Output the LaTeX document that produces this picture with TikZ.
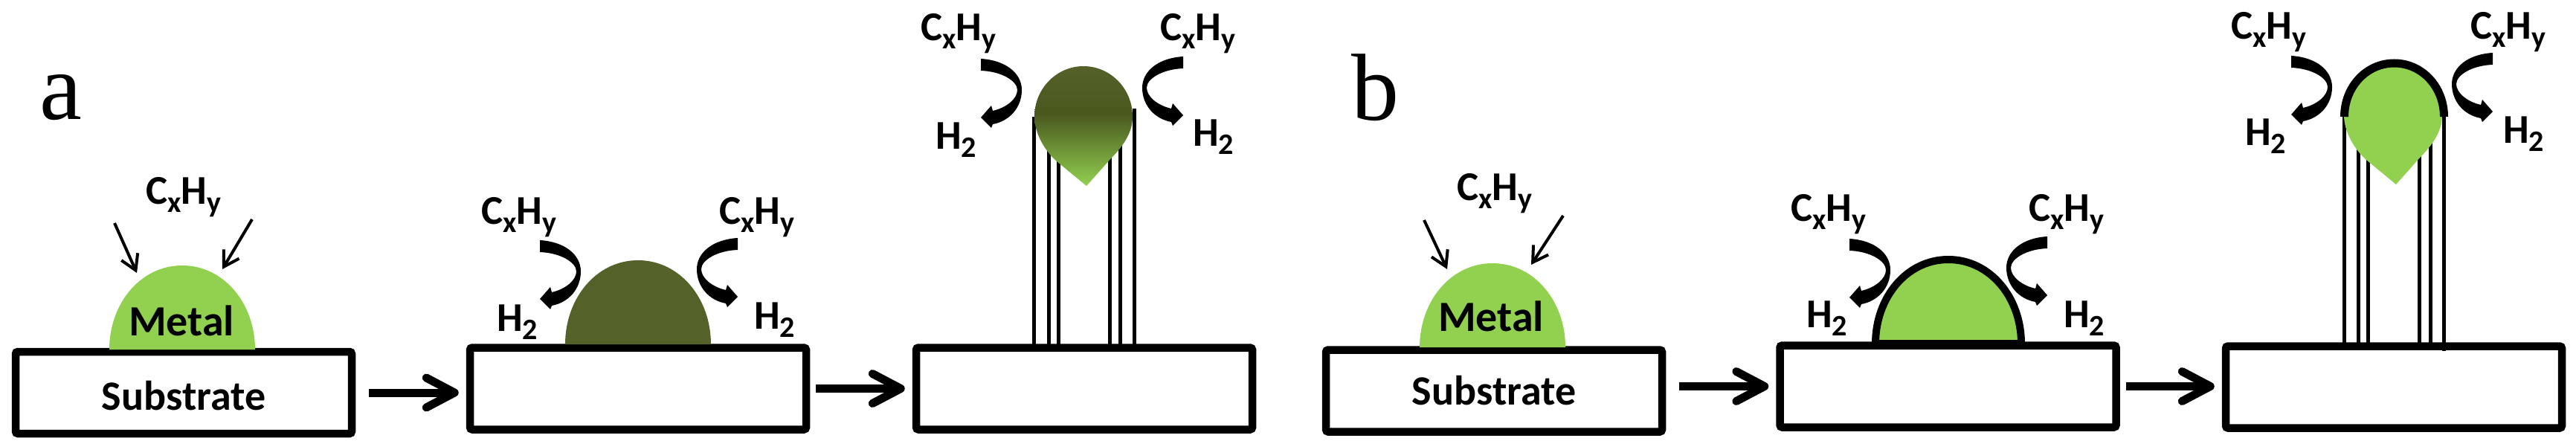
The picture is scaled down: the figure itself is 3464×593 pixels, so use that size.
\documentclass[tikz,border=0pt]{standalone}
\usepackage{fontspec}
\setmainfont{Carlito}
\newfontfamily\letterfont{Liberation Serif}
\usetikzlibrary{arrows.meta}
\definecolor{metalgreen}{RGB}{146,208,80}
\definecolor{carbongreen}{RGB}{84,98,42}
\definecolor{carbondark}{RGB}{74,88,30}
\pgfdeclareverticalshading{dropshade}{100bp}{color(0bp)=(metalgreen);color(25bp)=(metalgreen);color(55bp)=(carbondark);color(75bp)=(carbongreen);color(100bp)=(carbongreen)}
\newcommand{\labelfont}{\fontsize{55}{55}\selectfont\bfseries}
\newcommand{\subs}[1]{\raisebox{-11pt}{\fontsize{40}{40}\selectfont #1}}
\newcommand{\cxhy}{C\subs{x}H\subs{y}}
\newcommand{\htwo}{H\subs{2}}
\tikzset{
  substrate/.style={draw,line width=10.5pt,rounded corners=3pt,minimum width=452pt,minimum height=110pt,inner sep=0pt,font=\fontsize{56}{56}\selectfont\bfseries},
  chem/.style={anchor=base west,inner sep=0pt,font=\labelfont},
  metal/.style={anchor=base,inner sep=0pt,font=\fontsize{58}{58}\selectfont\bfseries},
  panel/.style={anchor=base west,inner sep=0pt,font=\letterfont\fontsize{128}{128}\selectfont},
  flow/.style={line width=11pt,-{Straight Barb[length=38pt,width=40pt,round]},shorten >=10pt},
  feed/.style={line width=4pt,-{Straight Barb[length=20pt,width=24pt]}},
  tube/.style={line width=5pt},
  dome/.pic={\path[pic actions] (-98,0) .. controls (-98,-62) and (-56,-113) .. (0,-113) .. controls (56,-113) and (98,-62) .. (98,0) -- cycle;},
  droplet/.pic={\path[pic actions] (-66,0) .. controls (-66,-38) and (-36,-68) .. (0,-68) .. controls (36,-68) and (66,-38) .. (66,0) .. controls (66,20) and (55,38) .. (36,57) -- (4,93) -- (-36,60) .. controls (-52,46) and (-66,22) .. (-66,0) -- cycle;},
  bend/.pic={\fill (0,-8) .. controls (34,-6) and (55,12) .. (55,34) .. controls (55,58) and (38,76) .. (16,80) -- (14,85) -- (0,71) -- (14,55) -- (16,62) .. controls (34,58) and (49,46) .. (49,34) .. controls (49,22) and (28,9) .. (0,8) -- cycle;}
}
\begin{document}
\begin{tikzpicture}[x=1pt,y=-1pt]
\useasboundingbox (0,0) rectangle (3464,593);

\node[panel] (labela) at (53,161) {a};
\node[panel] (labelb) at (1817,162) {b};

\draw[tube] (1390,157) -- (1390,465);
\draw[tube] (1410,157) -- (1410,465);
\draw[tube] (1423,157) -- (1423,465);
\draw[tube] (1492,157) -- (1492,465);
\draw[tube] (1506,157) -- (1506,465);
\draw[tube] (1525,146) -- (1525,472);
\draw[tube] (3152,155) -- (3152,465);
\draw[tube] (3171,155) -- (3171,465);
\draw[tube] (3184,155) -- (3184,465);
\draw[tube] (3253,155) -- (3253,465);
\draw[tube] (3268,155) -- (3268,465);
\draw[tube] (3286,155) -- (3286,472);

\node[substrate,text height=48pt] (suba1) at (247,528) {Substrate};
\node[substrate] (suba2) at (858,522.5) {};
\node[substrate] (suba3) at (1458,522.5) {};
\node[substrate] (subb1) at (2009,525.5) {Substrate};
\node[substrate] (subb2) at (2619.5,519.5) {};
\node[substrate] (subb3) at (3219,520.5) {};

\draw[flow,shorten <=18pt] (suba1.east) -- (suba1.east -| suba2.west);
\draw[flow,shorten <=8pt] (suba2.east) -- (suba3.west);
\draw[flow,shorten <=18pt] (subb1.east |- subb2.west) -- (subb2.west);
\draw[flow,shorten <=8pt] (subb2.east) -- (subb2.east -| subb3.west);

\path (245,470) pic[fill=metalgreen] {dome};
\path (858,463) pic[fill=carbongreen] {dome};
\path (2007,467) pic[fill=metalgreen] {dome};
\path (2620,462) pic[fill=metalgreen,draw,line width=10pt] {dome};
\path (1457,157) pic[shade,shading=dropshade] {droplet};
\path (3218,155) pic[fill=metalgreen] {droplet};
\draw[line width=11pt] (3152.5,157) .. controls (3152.5,117) and (3182,85) .. (3219.5,85) .. controls (3257,85) and (3286.5,117) .. (3286.5,157);

\node[metal] (metala) at (244,451) {Metal};
\node[metal] (metalb) at (2005,445) {Metal};

\coordinate (feeda1) at (154,300);
\coordinate (feeda2) at (184,367);
\coordinate (feeda3) at (339,295);
\coordinate (feeda4) at (299,362);
\coordinate (feedb1) at (1915,296);
\coordinate (feedb2) at (1946,362);
\coordinate (feedb3) at (2102,290);
\coordinate (feedb4) at (2059,356);
\draw[feed] (feeda1) -- (feeda2);
\draw[feed] (feeda3) -- (feeda4);
\draw[feed] (feedb1) -- (feedb2);
\draw[feed] (feedb3) -- (feedb4);

\path (726,331) pic {bend};
\path (992,328) pic[xscale=-1] {bend};
\path (1319,87) pic {bend};
\path (1591,84) pic[xscale=-1] {bend};
\path (2487,329) pic {bend};
\path (2753,326) pic[xscale=-1] {bend};
\path (3081,83) pic {bend};
\path (3352,79) pic[xscale=-1] {bend};

\node[chem] (gasa1) at (196,275) {\cxhy};
\node[chem] (gasa2) at (647,302) {\cxhy};
\node[chem] (gasa3) at (967,302) {\cxhy};
\node[chem] (gasa4) at (1238,55) {\cxhy};
\node[chem] (gasa5) at (1560,55) {\cxhy};
\node[chem] (gasb1) at (1959,270) {\cxhy};
\node[chem] (gasb2) at (2408,298) {\cxhy};
\node[chem] (gasb3) at (2728,298) {\cxhy};
\node[chem] (gasb4) at (3000,53) {\cxhy};
\node[chem] (gasb5) at (3322,53) {\cxhy};

\node[chem] (hyda1) at (668,445) {\htwo};
\node[chem] (hyda2) at (1014,442) {\htwo};
\node[chem] (hyda3) at (1258,201) {\htwo};
\node[chem] (hyda4) at (1604,197) {\htwo};
\node[chem] (hydb1) at (2429,440) {\htwo};
\node[chem] (hydb2) at (2775,440) {\htwo};
\node[chem] (hydb3) at (3019,196) {\htwo};
\node[chem] (hydb4) at (3366,193) {\htwo};
\end{tikzpicture}
\end{document}
